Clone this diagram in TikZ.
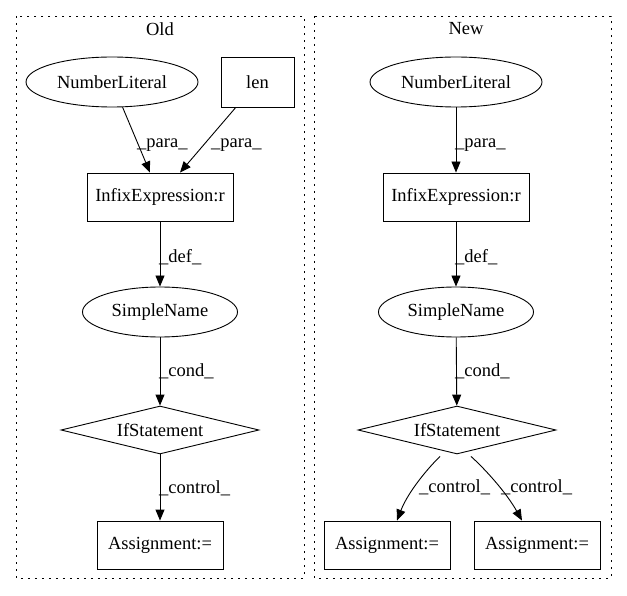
\documentclass[tikz,border=0pt]{standalone}
\usepackage{fontspec}
\setmainfont{Liberation Serif}
\usetikzlibrary{shapes.geometric,arrows.meta,calc}
\begin{document}
\begin{tikzpicture}[x=1pt,y=-1pt,
  every node/.style={font=\fontsize{18.5}{20}\selectfont},
  cluster/.style={draw,line width=0.9pt,dash pattern=on 1.6pt off 5.4pt},
  ell/.style={draw,line width=0.9pt,ellipse,minimum width=#1,minimum height=50,inner sep=0pt},
  box/.style={draw,line width=0.9pt,rectangle,minimum width=#1,minimum height=48,inner sep=0pt},
  dia/.style={draw,line width=0.9pt,diamond,aspect=4.1,minimum width=198,minimum height=48,inner sep=0pt},
  edge/.style={draw,line width=0.9pt,-{Triangle[length=11pt,width=9pt]}},
  lab/.style={font=\fontsize{18.5}{20}\selectfont,inner sep=0pt,anchor=west}
]
\useasboundingbox (0,0) rectangle (627,596);
\draw[cluster] (16,16) rectangle (304,578);
\draw[cluster] (314,16) rectangle (611,578);
\node (told) at (160,29) {Old};
\node (tnew) at (466,29) {New};

% Old
\node[ell=172] (onl) at (112,82) {NumberLiteral};
\node[box=73,minimum height=50] (olen) at (257.5,82) {len};
\node[box=146] (oinf) at (160,197) {InfixExpression:r};
\node[ell=155] (osn) at (160,312) {SimpleName};
\node[dia] (oif) at (160,430) {IfStatement};
\node[box=126] (oas) at (160,545) {Assignment:=};

\draw[edge] (onl) -- ([xshift=-10]oinf.north);
\node[lab] (lp1) at (137,145) {\_para\_};
\draw[edge] (olen) -- ([xshift=20]oinf.north);
\node[lab] (lp2) at (211,145) {\_para\_};
\draw[edge] (oinf) -- (osn);
\node[lab] (ld1) at (159,257) {\_def\_};
\draw[edge] (osn) -- (oif);
\node[lab] (lco1) at (159,371) {\_cond\_};
\draw[edge] (oif) -- (oas);
\node[lab] (lct1) at (159,488) {\_control\_};

% New
\node[ell=172] (nnl) at (456,82) {NumberLiteral};
\node[box=146] (ninf) at (456,197) {InfixExpression:r};
\node[ell=155] (nsn) at (456,312) {SimpleName};
\node[dia] (nif) at (457,430) {IfStatement};
\node[box=126] (nas1) at (387,545) {Assignment:=};
\node[box=126] (nas2) at (537,545) {Assignment:=};

\draw[edge] (nnl) -- (ninf);
\node[lab] (lp3) at (455,145) {\_para\_};
\draw[edge] (ninf) -- (nsn);
\node[lab] (ld2) at (455,257) {\_def\_};
\draw[edge] (nsn) -- (nif);
\node[lab] (lco2) at (455,371) {\_cond\_};
\draw[edge] ([xshift=-17,yshift=-2]nif.south) .. controls (428,468) and (408,492) .. ([xshift=10]nas1.north);
\node[lab] (lc1) at (419,487) {\_control\_};
\draw[edge] ([xshift=14,yshift=-2]nif.south) .. controls (484,468) and (506,492) .. ([xshift=-15]nas2.north);
\node[lab] (lc2) at (501,487) {\_control\_};
\end{tikzpicture}
\end{document}
